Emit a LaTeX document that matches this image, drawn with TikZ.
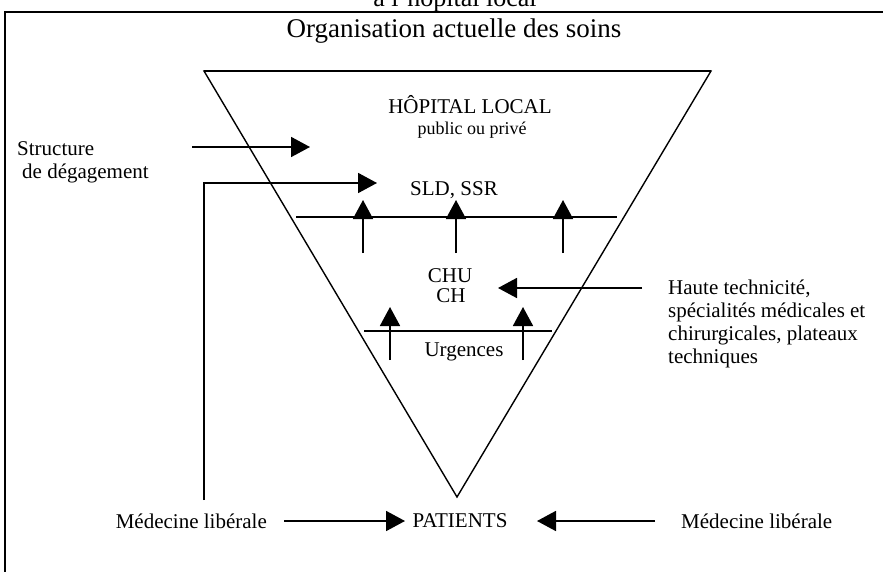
\documentclass[tikz,border=0pt]{standalone}
\usepackage{fontspec}
\setmainfont{Liberation Serif}
\usetikzlibrary{arrows.meta}
\begin{document}
\begin{tikzpicture}[x=1pt,y=-1pt,
  txt/.style={font=\fontsize{21}{23}\selectfont, inner sep=0pt},
  small/.style={font=\fontsize{18}{20}\selectfont, inner sep=0pt},
  arr/.style={line width=1.8pt,-{Triangle[length=19pt,width=20pt]}},
  bar/.style={line width=1.5pt},
  tri/.style={line width=1.4pt, line join=miter}]
\useasboundingbox (0,0) rectangle (883,572);
\fill[white] (0,0) rectangle (883,572);
% frame
\draw[line width=2.5pt] (890,12) -- (5,12) -- (5,580);
% cut heading and title
\node[anchor=base, font=\fontsize{26}{28}\selectfont, inner sep=0pt] (sub) at (455,7) {à l'hôpital local};
\node[anchor=base, font=\fontsize{27}{30}\selectfont, inner sep=0pt] (title) at (454,38) {Organisation actuelle des soins};
% triangle
\coordinate (tl) at (204,71);
\coordinate (tr) at (711,71);
\coordinate (ap) at (457,497);
\draw[tri] (tl) -- (tr) -- (ap) -- cycle;
\draw[line width=2pt] (tl) -- (tr);
% texts inside
\node[txt] (hl) at (470,105) {HÔPITAL LOCAL};
\node[small] (pp) at (472,130) {public ou privé};
\node[txt] (sld) at (454,190) {SLD, SSR};
\node[txt] (chu) at (450,276) {CHU};
\node[txt] (ch) at (451,296) {CH};
\node[txt] (urg) at (464,352) {Urgences};
\node[txt] (pat) at (460,521) {PATIENTS};
% side texts
\node[txt, align=left, anchor=north west] (struct) at (17,141) {Structure\\\hspace*{5pt}de dégagement};
\node[txt, align=left, anchor=north west] (haute) at (668,280) {Haute technicité,\\spécialités médicales et\\chirurgicales, plateaux\\techniques};
\node[txt, anchor=east] (medl) at (267,521) {Médecine libérale};
\node[txt, anchor=west] (medr) at (681,521) {Médecine libérale};
% structure arrow
\coordinate (s1) at (192,147);
\coordinate (s2) at (310,147);
\draw[arr] (s1) -- (s2);
% left elbow arrow
\coordinate (v1) at (204,500);
\coordinate (v2) at (204,183);
\coordinate (v3) at (377,183);
\draw[arr, line join=miter] (v1) -- (v2) -- (v3);
% upper bar and arrows
\coordinate (b1) at (296,217);
\coordinate (b2) at (617,217);
\draw[bar] (b1) -- (b2);
\foreach \x/\n in {363/a,456/b,563/c}{
  \coordinate (u\n0) at (\x,253);
  \coordinate (u\n1) at (\x,200);
  \draw[arr] (u\n0) -- (u\n1);
}
% haute arrow
\coordinate (h1) at (642,288);
\coordinate (h2) at (498,288);
\draw[arr] (h1) -- (h2);
% lower bar and arrows
\coordinate (c1) at (364,331);
\coordinate (c2) at (552,331);
\draw[bar] (c1) -- (c2);
\foreach \x/\n in {390/a,523/b}{
  \coordinate (l\n0) at (\x,360);
  \coordinate (l\n1) at (\x,307);
  \draw[arr] (l\n0) -- (l\n1);
}
% bottom arrows
\coordinate (m1) at (284,521);
\coordinate (m2) at (405,521);
\draw[arr] (m1) -- (m2);
\coordinate (r1) at (655,521);
\coordinate (r2) at (537,521);
\draw[arr] (r1) -- (r2);
\end{tikzpicture}
\end{document}
